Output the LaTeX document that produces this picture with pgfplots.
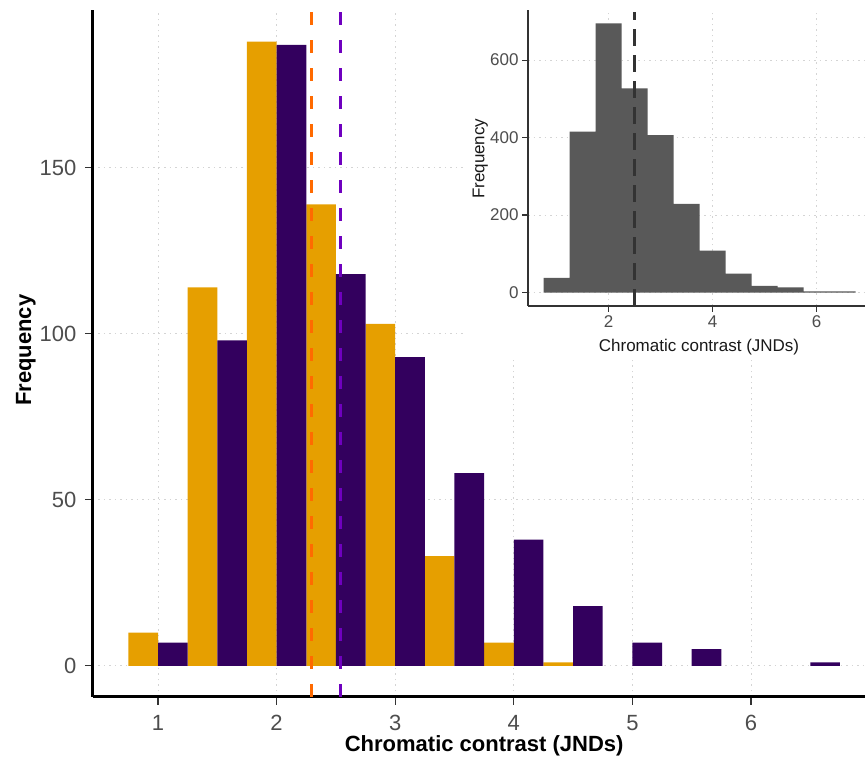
\documentclass[border=0pt]{standalone}
\usepackage{pgfplots}
\pgfplotsset{compat=1.18}
\usepackage{fontspec}
\setmainfont{Liberation Sans}
\definecolor{orng}{HTML}{E69F00}
\definecolor{purp}{HTML}{33005E}
\definecolor{dorng}{HTML}{FF6A00}
\definecolor{dpurp}{HTML}{6F00BF}
\definecolor{insetfill}{HTML}{595959}
\definecolor{insetdash}{HTML}{333333}
\definecolor{tickgray}{HTML}{4D4D4D}
\definecolor{gridgray}{HTML}{D4D4D4}
\begin{document}
\begin{tikzpicture}[x=1pt,y=1pt]
\path[use as bounding box] (0,0) rectangle (865,763);
\begin{axis}[
  at={(92.8pt,66pt)}, anchor=south west,
  scale only axis, width=772pt, height=686.6pt,
  xmin=0.45, xmax=6.96, ymin=-9.4, ymax=197.4,
  axis x line=bottom, axis y line=left,
  axis line style={-, line width=3pt, black},
  xtick={1,2,3,4,5,6}, ytick={0,50,100,150},
  xtick pos=bottom, ytick pos=left,
  tick align=outside, major tick length=8pt,
  major tick style={draw=black!80, line width=1.4pt},
  grid=major,
  major grid style={color=gridgray, line width=0.9pt, dash pattern=on 1.5pt off 4pt},
  /pgf/number format/assume math mode=true,
  tick label style={font=\fontsize{22}{24}\selectfont, text=tickgray},
  yticklabel style={xshift=-5pt},
  xticklabel style={yshift=-7pt},
  xlabel={\bfseries Chromatic contrast (JNDs)},
  xlabel style={font=\fontsize{22}{26}\selectfont, at={(axis description cs:0.507,0)}, anchor=north, yshift=-38pt, inner sep=0pt},
  ylabel={\bfseries Frequency},
  ylabel style={font=\fontsize{22}{26}\selectfont, at={(axis description cs:0,0.505)}, anchor=south, yshift=57pt, inner sep=0pt},
  bar width=0.25,
  clip=false,
]
\addplot[ybar, fill=orng, draw=none, bar shift=-0.125] coordinates {
 (1,10) (1.5,114) (2,188) (2.5,139) (3,103) (3.5,33) (4,7) (4.5,1)};
\addplot[ybar, fill=purp, draw=none, bar shift=0.125] coordinates {
 (1,7) (1.5,98) (2,187) (2.5,118) (3,93) (3.5,58) (4,38) (4.5,18) (5,7) (5.5,5) (6.5,1)};
\addplot[sharp plot, dorng, line width=3pt, dash pattern=on 13pt off 15pt] coordinates {(2.29,-9.4) (2.29,197)};
\addplot[sharp plot, dpurp, line width=3pt, dash pattern=on 13pt off 15pt] coordinates {(2.54,-9.4) (2.54,197)};
\end{axis}
\fill[white] (465,405) rectangle (870,770);
\begin{axis}[
  at={(528pt,457pt)}, anchor=south west,
  scale only axis, width=338pt, height=296.2pt,
  xmin=0.45, xmax=6.95, ymin=-34.75, ymax=729.75,
  axis x line=bottom, axis y line=left,
  axis line style={-, line width=1.2pt, insetdash},
  xtick={2,4,6}, ytick={0,200,400,600},
  xtick pos=bottom, ytick pos=left,
  tick align=outside, major tick length=6pt,
  major tick style={draw=insetdash, line width=1.1pt},
  grid=major,
  major grid style={color=gridgray, line width=0.9pt, dash pattern=on 1.5pt off 4pt},
  /pgf/number format/assume math mode=true,
  tick label style={font=\fontsize{17}{19}\selectfont, text=tickgray},
  xlabel={Chromatic contrast (JNDs)},
  xlabel style={font=\fontsize{17}{20}\selectfont, text=black!90, at={(axis description cs:0.506,0)}, anchor=north, yshift=-33pt, inner sep=0pt},
  ylabel={Frequency},
  ylabel style={font=\fontsize{17}{20}\selectfont, text=black!90, at={(axis description cs:0,0.497)}, anchor=south, yshift=40pt, inner sep=0pt},
  bar width=0.5,
]
\addplot[ybar, fill=insetfill, draw=none, bar shift=0] coordinates {
 (1,38) (1.5,415) (2,695) (2.5,527) (3,406) (3.5,229) (4,108) (4.5,49) (5,17) (5.5,13) (6,3) (6.5,3)};
\addplot[sharp plot, insetdash, line width=3pt, dash pattern=on 17pt off 9pt] coordinates {(2.49,-34.75) (2.49,725)};
\end{axis}
\end{tikzpicture}
\end{document}
